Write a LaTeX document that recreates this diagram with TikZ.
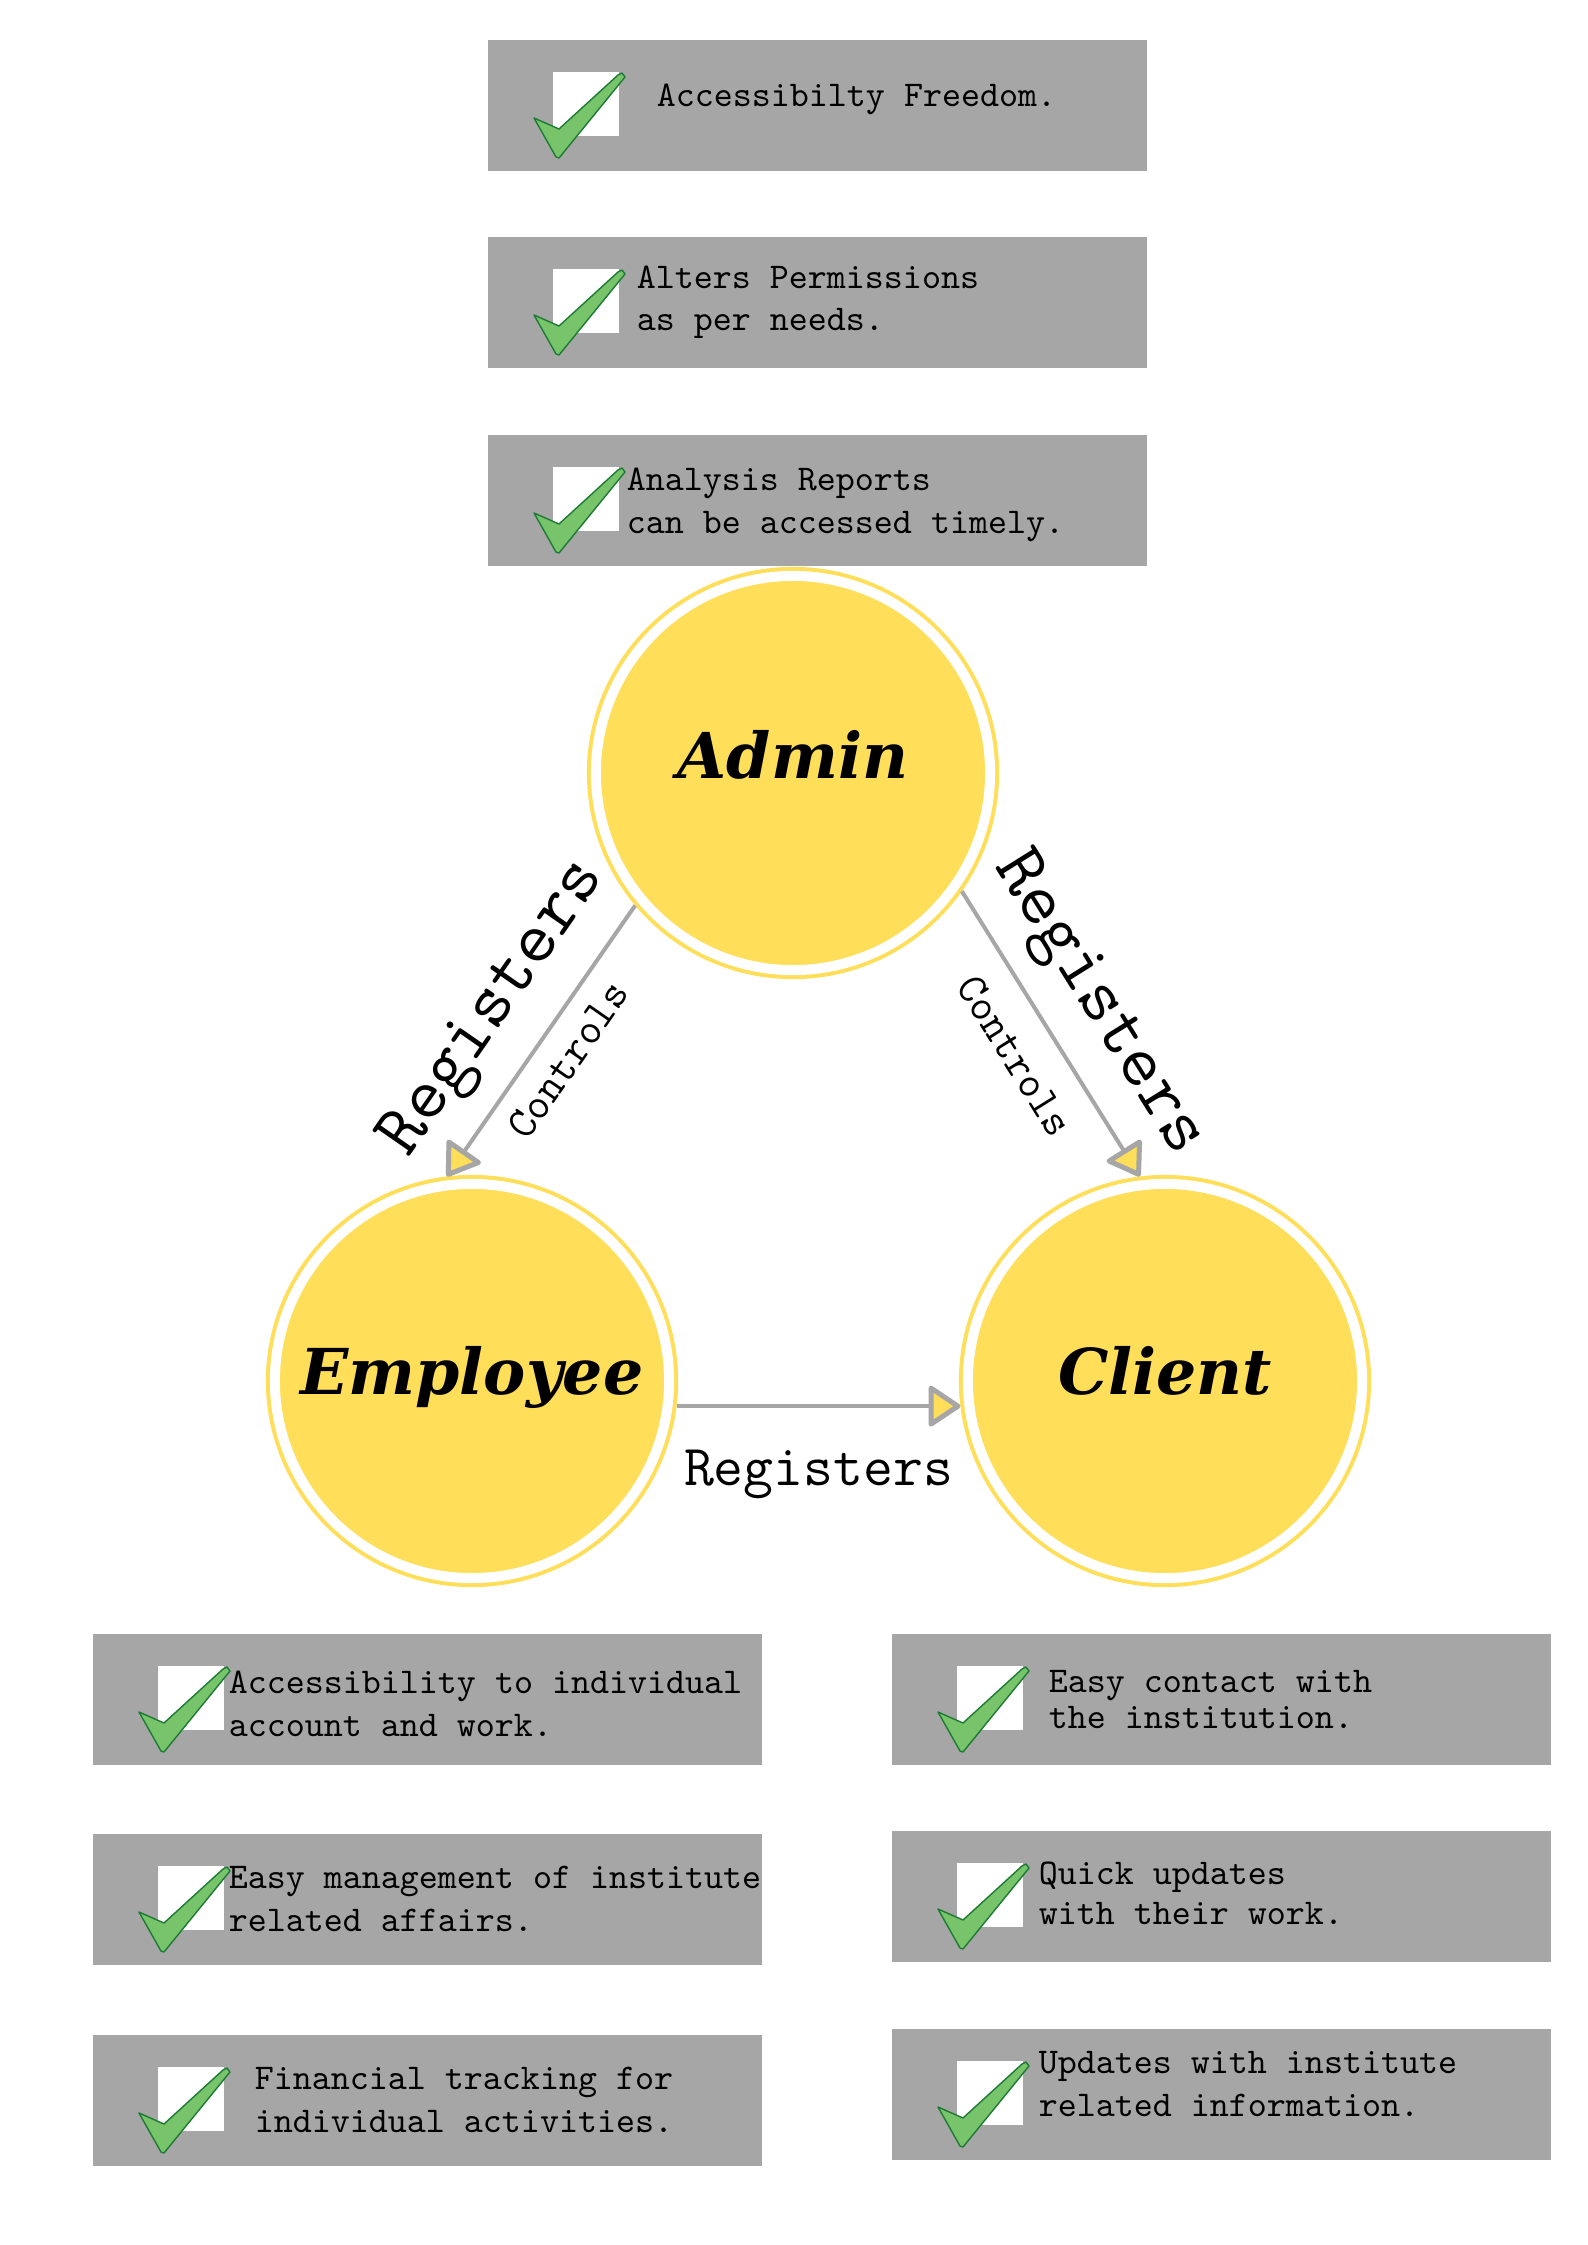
\documentclass[tikz,border=0pt]{standalone}
\usepackage{fontspec}
\newfontfamily\rolefont{DejaVu Serif}
\usepackage{tikz}
\usetikzlibrary{positioning, calc, arrows.meta}
\definecolor{RoleYellow}{HTML}{FFDE59}
\definecolor{BoxGray}{HTML}{A6A6A6}
\definecolor{LinkGray}{HTML}{A6A6A6}
\definecolor{TickGreen}{HTML}{77C46B}
\definecolor{TickEdge}{HTML}{1E7B34}
\tikzset{
    featbox/.style={
        shape=rectangle,
        fill=BoxGray,
        minimum width=6.59cm,
        minimum height=1.31cm,
        inner sep=0pt
    },
    checkmark/.pic={
        \fill[white] (66,33) rectangle ++(66,64);
        \draw[fill=TickGreen, draw=TickEdge, line width=0.4pt, line join=round] (47,79) -- (72,90) -- (131,36) -- (135,34) -- (138,38) -- (72,119) -- (69,118) -- cycle;
    },
    feattext/.style={inner sep=0pt, align=left, font=\fontsize{10.3}{12.2}\selectfont\ttfamily},
    role/.style={
        shape=circle,
        minimum size=3.94cm,
        inner sep=0pt,
        outer sep=0.09cm,
        fill=RoleYellow,
        draw=RoleYellow,
        line width=0.04cm,
        double=white,
        double distance=0.1cm,
        font=\rolefont\bfseries\itshape\fontsize{18}{18}\selectfont
    },
    link/.style={draw=LinkGray, line width=0.04cm, -{Triangle[length=0.34cm, width=0.44cm, fill=RoleYellow, line width=0.05cm, round]}},
    reglabel/.style={inner sep=0pt, font=\ttfamily\fontsize{21.1}{22}\selectfont},
    flatreg/.style={inner sep=0pt, font=\ttfamily\fontsize{16.5}{18}\selectfont},
    ctrllabel/.style={inner sep=0pt, font=\ttfamily\fontsize{12.5}{14}\selectfont}
}

\begin{document}
\begin{tikzpicture}[x=0.01cm, y=-0.01cm]
\useasboundingbox[fill=white] (0,0) rectangle (1587,2245);

% Admin features
\node[featbox, anchor=north west] (adm_free) at (487,39) {};
\node[feattext, right=1.69cm of adm_free.west, yshift=0.06cm] (adm_free_txt) {Accessibilty Freedom.};

\node[featbox, anchor=north west] (adm_perm) at (487,236) {};
\node[feattext, right=1.49cm of adm_perm.west] (adm_perm_txt) {Alters Permissions\\as per needs.};

\node[featbox, anchor=north west] (adm_rep) at (487,434) {};
\node[feattext, right=1.39cm of adm_rep.west, yshift=-0.05cm] (adm_rep_txt) {Analysis Reports\\can be accessed timely.};

% Roles
\node[role, text depth=0.38cm] (admin) at (793,773) {Admin};
\node[role, text depth=0.22cm] (employee) at (472,1381) {Employee};
\node[role, text depth=0.22cm] (client) at (1165,1381) {Client};

% Links
\draw[link] (admin.220) -- (employee.97)
    node[midway, sloped, yshift=0.56cm, reglabel] (reg_emp) {Registers}
    node[midway, sloped, yshift=-0.33cm, ctrllabel] (ctrl_emp) {Controls};
\draw[link] (admin.325) -- (client.97)
    node[midway, sloped, yshift=0.55cm, reglabel] (reg_cli) {Registers}
    node[midway, sloped, yshift=-0.42cm, ctrllabel] (ctrl_cli) {Controls};
\draw[link] (employee.-7) -- (client.187)
    node[midway, yshift=-0.68cm, flatreg] (reg_emp_cli) {Registers};

% Employee features
\node[featbox, minimum width=6.69cm, anchor=north west] (emp_acc) at (92,1633) {};
\node[feattext, right=1.36cm of emp_acc.west, yshift=-0.05cm] (emp_acc_txt) {Accessibility to individual\\account and work.};

\node[featbox, minimum width=6.69cm, anchor=north west] (emp_mgmt) at (92,1833) {};
\node[feattext, right=1.36cm of emp_mgmt.west] (emp_mgmt_txt) {Easy management of institute\\related affairs.};

\node[featbox, minimum width=6.69cm, anchor=north west] (emp_fin) at (92,2034) {};
\node[feattext, right=1.62cm of emp_fin.west] (emp_fin_txt) {Financial tracking for\\individual activities.};

% Client features
\node[featbox, anchor=north west] (cli_contact) at (891,1633) {};
\node[feattext, right=1.57cm of cli_contact.west, font=\fontsize{10.3}{10.2}\selectfont\ttfamily] (cli_contact_txt) {Easy contact with\\the institution.};

\node[featbox, anchor=north west] (cli_quick) at (891,1830) {};
\node[feattext, right=1.47cm of cli_quick.west, yshift=0.03cm, font=\fontsize{10.3}{11.3}\selectfont\ttfamily] (cli_quick_txt) {Quick updates\\with their work.};

\node[featbox, anchor=north west] (cli_info) at (891,2028) {};
\node[feattext, right=1.47cm of cli_info.west, yshift=0.1cm] (cli_info_txt) {Updates with institute\\related information.};

% Ticks
\foreach \b in {adm_free, adm_perm, adm_rep, emp_acc, emp_mgmt, emp_fin, cli_contact, cli_quick, cli_info}
    \pic at (\b.north west) {checkmark};

\end{tikzpicture}
\end{document}
